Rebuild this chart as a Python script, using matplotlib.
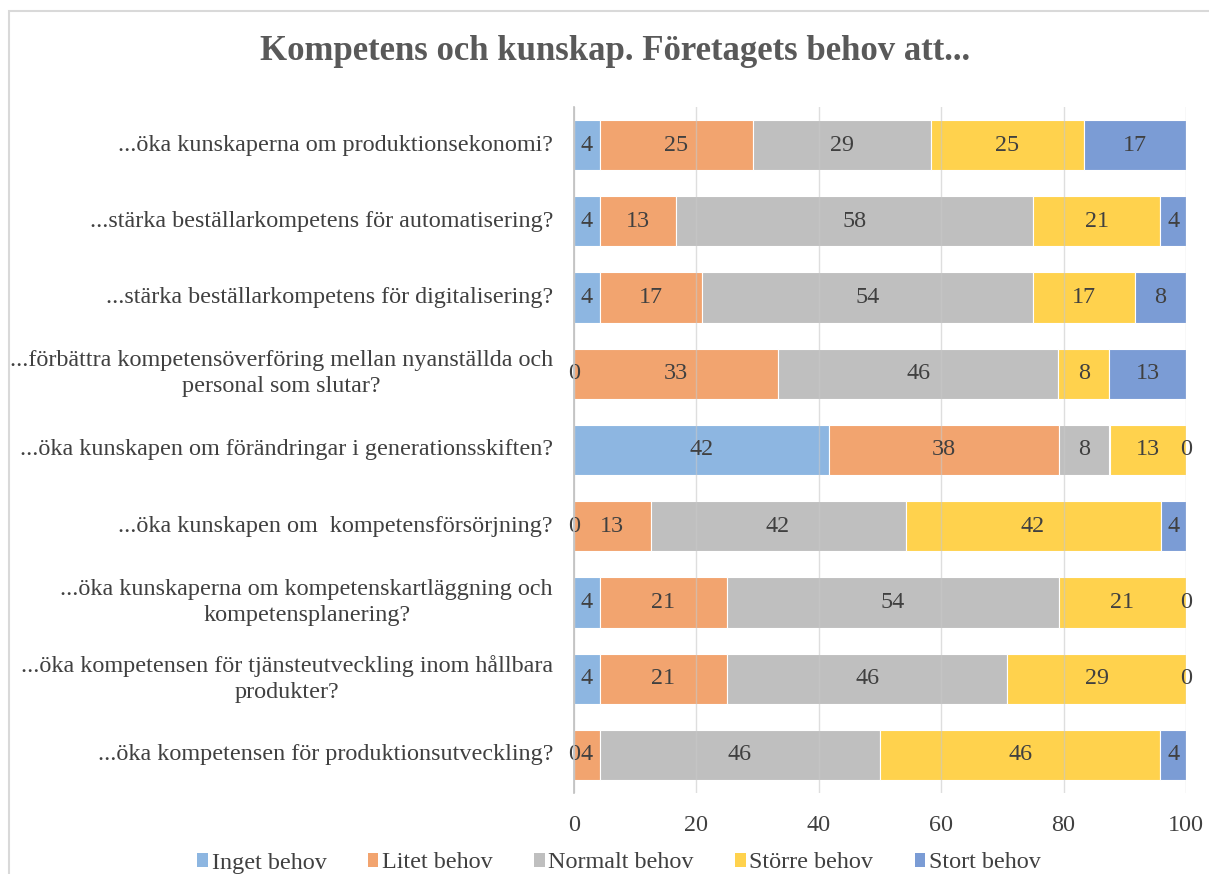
import math
import matplotlib
matplotlib.use("Agg")
import matplotlib.pyplot as plt
from matplotlib.patches import Rectangle, Patch
from matplotlib.transforms import blended_transform_factory, offset_copy

plt.rcParams['font.family'] = ['Liberation Serif', 'DejaVu Serif']

categories = [
    "...öka kunskaperna om produktionsekonomi?",
    "...stärka beställarkompetens för automatisering?",
    "...stärka beställarkompetens för digitalisering?",
    "...förbättra kompetensöverföring mellan nyanställda och\npersonal som slutar?",
    "...öka kunskapen om förändringar i generationsskiften?",
    "...öka kunskapen om  kompetensförsörjning?",
    "...öka kunskaperna om kompetenskartläggning och\nkompetensplanering?",
    "...öka kompetensen för tjänsteutveckling inom hållbara\nprodukter?",
    "...öka kompetensen för produktionsutveckling?",
]

series_names = ["Inget behov", "Litet behov", "Normalt behov", "Större behov", "Stort behov"]

inget   = [4.17, 4.17, 4.17, 0.00, 41.67, 0.00, 4.17, 4.17, 0.00]
litet   = [25.00, 12.50, 16.67, 33.33, 37.50, 12.50, 20.83, 20.83, 4.17]
normalt = [29.17, 58.33, 54.17, 45.83, 8.33, 41.67, 54.17, 45.83, 45.83]
storre  = [25.00, 20.83, 16.67, 8.33, 12.50, 41.67, 20.83, 29.17, 45.83]
stort   = [16.67, 4.17, 8.33, 12.50, 0.00, 4.17, 0.00, 0.00, 4.17]

x_ticks = [0, 20, 40, 60, 80, 100]
title = "Kompetens och kunskap. Företagets behov att..."

colors = ["#8DB6E1", "#F2A46F", "#BFBFBF", "#FFD24D", "#7B9CD5"]
text_color = "#404040"
fs = 17.4

W, H = 1209, 874
fig = plt.figure(figsize=(W / 100, H / 100), dpi=100)
fig.patch.set_facecolor("white")

# chart frame
fig.patches.append(Rectangle((9 / W, -0.2), 1.5, 1.2 - 11 / H, transform=fig.transFigure,
                             fill=False, edgecolor="#D9D9D9", linewidth=1.5))

ax = fig.add_axes([574 / W, 1 - 793 / H, (1186 - 574) / W, (793 - 107) / H])

data = [inget, litet, normalt, storre, stort]
n = len(categories)
ypos = list(range(n))
left = [0.0] * n
for vals, name, col in zip(data, series_names, colors):
    ax.barh(ypos, vals, left=left, height=0.66, color=col, edgecolor="white",
            linewidth=0.8, label=name, zorder=2)
    for i, v in enumerate(vals):
        cx = left[i] + v / 2
        ax.text(cx, ypos[i], str(int(math.floor(v + 0.5))), ha="center", va="center",
                fontsize=fs, color=text_color, zorder=4)
    left = [l + v for l, v in zip(left, vals)]

ax.set_xlim(0, 100)
ax.set_ylim(n - 0.5, -0.5)
ax.set_xticks(x_ticks)
ax.set_xticklabels([str(t) for t in x_ticks])
ax.set_yticks(ypos)
ax.set_yticklabels([])
ax.tick_params(axis="y", length=0)
ax.tick_params(axis="x", length=0, pad=16, labelsize=fs, labelcolor=text_color)

# category labels (right-aligned block, centred lines)
trans = offset_copy(blended_transform_factory(ax.transAxes, ax.transData), fig=fig,
                    x=-21, y=0, units="dots")
for i, cat in enumerate(categories):
    ax.text(0, ypos[i], cat, transform=trans, ha="right", va="center",
            multialignment="center", linespacing=1.32, fontsize=fs, color=text_color)

ax.xaxis.grid(True, color="#C8C8C8", linewidth=1.0, alpha=0.6, zorder=3)
ax.set_axisbelow(False)
for s in ["top", "right", "bottom"]:
    ax.spines[s].set_visible(False)
ax.spines["left"].set_color("#BFBFBF")
ax.spines["left"].set_linewidth(1.2)
ax.spines["left"].set_zorder(5)

fig.text(615 / W, 1 - 52 / H, title, ha="center", va="center", fontsize=25,
         fontweight="bold", color="#595959")

handles = [Patch(facecolor=c, edgecolor="none") for c in colors]
fig.legend(handles, series_names, loc="center", bbox_to_anchor=(619 / W, 1 - 863 / H),
           ncol=5, frameon=False, fontsize=fs, handlelength=0.45, handleheight=0.55,
           handletextpad=0.15, columnspacing=1.7, labelcolor=text_color,
           borderpad=0, borderaxespad=0)

fig.savefig("out.png", dpi=100, facecolor="white")
